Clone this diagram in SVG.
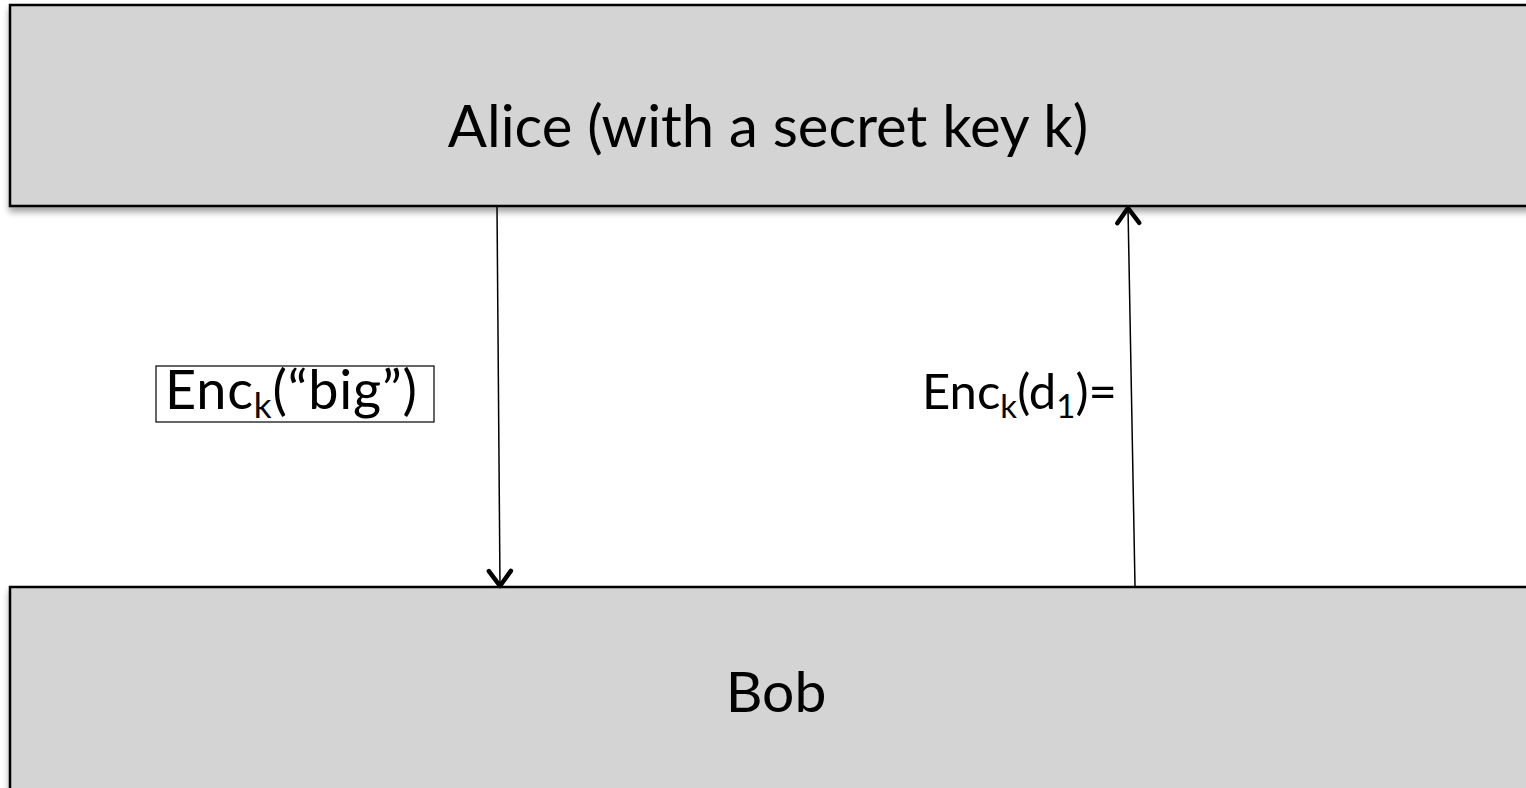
<svg xmlns="http://www.w3.org/2000/svg" width="1526" height="788" viewBox="0 0 1526 788">
<defs>
<style>
.party{fill:#d4d4d4;stroke:#000;stroke-width:2.5}
.t{font-family:Lato,"Open Sans","Liberation Sans",sans-serif;fill:#000}
.conn{stroke:#000;stroke-width:1.5;fill:none}
</style>
<marker id="arr" viewBox="0 0 30 30" refX="26" refY="15" markerWidth="30" markerHeight="30" markerUnits="userSpaceOnUse" orient="auto" overflow="visible">
<path d="M11 4 L26 15 L11 26" fill="none" stroke="#000" stroke-width="4.5" stroke-linecap="round" stroke-linejoin="round"/>
</marker>
<filter id="sh" x="-5%" y="-5%" width="110%" height="120%">
<feGaussianBlur in="SourceAlpha" stdDeviation="3"/>
<feOffset dx="0" dy="5"/>
<feComponentTransfer><feFuncA type="linear" slope="0.35"/></feComponentTransfer>
<feMerge><feMergeNode/><feMergeNode in="SourceGraphic"/></feMerge>
</filter>
</defs>
<rect width="1526" height="788" fill="#fff"/>
<g id="alice">
<rect class="party" x="10" y="5" width="1530" height="201" filter="url(#sh)"/>
<text class="t" x="768" y="147" font-size="58" text-anchor="middle">Alice (with a secret key k)</text>
</g>
<g id="bob">
<rect class="party" x="10" y="587" width="1530" height="220" filter="url(#sh)"/>
<text class="t" x="776" y="712" font-size="57" text-anchor="middle">Bob</text>
</g>
<g id="connectors">
<line class="conn" x1="497" y1="207" x2="500" y2="586" marker-end="url(#arr)"/>
<line class="conn" x1="1135" y1="586" x2="1128" y2="208" marker-end="url(#arr)"/>
</g>
<g id="label-big">
<rect x="156" y="366" width="278" height="56" fill="#fff" stroke="#000" stroke-width="1.2"/>
<text class="t" x="165" y="409" font-size="54" textLength="252">Enc<tspan font-size="35" dy="9">k</tspan><tspan dy="-9">(“big”)</tspan></text>
</g>
<g id="label-d1">
<text class="t" x="922" y="409" font-size="49">Enc<tspan font-size="33" dy="9">k</tspan><tspan dy="-9">(d</tspan><tspan font-size="33" dy="9">1</tspan><tspan dy="-9">)=</tspan></text>
</g>
</svg>
